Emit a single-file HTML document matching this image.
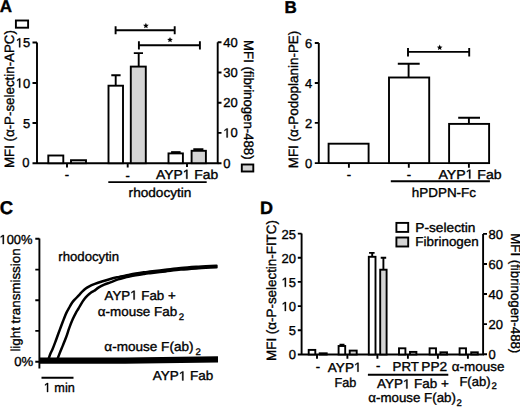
<!DOCTYPE html>
<html><head><meta charset="utf-8">
<style>
html,body{margin:0;padding:0;background:#fff;}
body{width:520px;height:408px;overflow:hidden;}
svg{display:block;}
text{font-family:"Liberation Sans",sans-serif;fill:#000;text-rendering:geometricPrecision;}
.t{font-size:13px;stroke:#000;stroke-width:0.35px;}
.s{font-size:9.6px;stroke:#000;stroke-width:0.3px;}
.b{font-weight:bold;font-size:17px;stroke:#000;stroke-width:0.4px;}
.ln{stroke:#000;stroke-width:1.9;fill:none;}
.bw{stroke:#000;stroke-width:1.9;fill:#fff;}
.bg{stroke:#000;stroke-width:1.9;fill:#d4d4d4;}
.tr{stroke:#000;stroke-width:2.5;fill:none;stroke-linejoin:round;stroke-linecap:round;}
.h1{fill:none;stroke:none;}
.one{fill:#000;stroke:#000;stroke-width:0.35px;}
</style></head>
<body>
<svg width="520" height="408" viewBox="0 0 520 408">
<!-- ================= PANEL A ================= -->
<text class="b" x="-0.3" y="12.4">A</text>
<rect class="bw" x="15.9" y="20.5" width="12.2" height="7.2" stroke-width="1.6"/>
<text class="t" style="font-size:13.5px" transform="translate(13.8,168.1) rotate(-90)" textLength="138" lengthAdjust="spacingAndGlyphs">MFI (α-P-selectin-APC)</text>
<!-- left axis -->
<path class="ln" d="M37 42.5V163.2 M32.5 42.5H37 M32.5 83H37 M32.5 123H37 M32.5 163.2H218.5"/>
<text class="t" x="30.3" y="47.3" text-anchor="end"><tspan class="h1">1</tspan>5</text>
<text class="t" x="30.3" y="87.5" text-anchor="end"><tspan class="h1">1</tspan>0</text>
<text class="t" x="30.3" y="127.6" text-anchor="end">5</text>
<text class="t" x="29.6" y="167.2" text-anchor="end">0</text>
<!-- right axis -->
<path class="ln" d="M217.7 42.3V163.2 M217.7 42.3H221.5 M217.7 72.5H221.5 M217.7 102.7H221.5 M217.7 132.9H221.5 M217.7 163.2H221.5"/>
<text class="t" x="223.3" y="47">40</text>
<text class="t" x="223.3" y="77.2">30</text>
<text class="t" x="223.3" y="107.4">20</text>
<text class="t" x="223.3" y="137.4"><tspan class="h1">1</tspan>0</text>
<text class="t" x="223.3" y="167.6">0</text>
<text class="t" style="font-size:13.5px" transform="translate(244.1,40.1) rotate(90)" textLength="119.5" lengthAdjust="spacingAndGlyphs">MFI (fibrinogen-488)</text>
<rect class="bg" x="241.8" y="164.5" width="11.5" height="7" stroke-width="1.6"/>
<!-- bars -->
<rect class="bw" x="48.3" y="155.5" width="15" height="7.7"/>
<rect class="bg" x="71" y="160.2" width="15" height="3"/>
<path class="ln" d="M115.7 85.7V75.3 M111.3 75.3H120.6"/>
<rect class="bw" x="108.5" y="85.7" width="14.5" height="77.5"/>
<path class="ln" d="M138.7 66.6V53.1 M133.8 53.1H143"/>
<rect class="bg" x="130.8" y="66.6" width="15" height="96.6"/>
<path class="ln" d="M171.1 152.1H180.6"/>
<rect class="bw" x="168.5" y="153.4" width="14.4" height="9.8"/>
<path class="ln" d="M193.3 149.2H203.4"/>
<rect class="bg" x="191.6" y="150.8" width="14.3" height="12.4"/>
<!-- ticks below -->
<path class="ln" d="M67 163.2V167.5 M127.7 163.2V167.5 M187 163.2V167 M108.3 182.1H206.7"/>
<text class="t" x="67" y="178.6" text-anchor="middle">-</text>
<text class="t" x="127.7" y="180.3" text-anchor="middle">-</text>
<text class="t" x="156" y="178.8" textLength="62.2" lengthAdjust="spacingAndGlyphs">AYP<tspan class="h1">1</tspan> Fab</text>
<text class="t" x="128.6" y="197.2" textLength="62.8" lengthAdjust="spacingAndGlyphs">rhodocytin</text>
<!-- brackets -->
<path class="ln" d="M115.6 30.2H174.7 M115.6 26.2V34.2 M174.7 26.2V34.2"/>
<polygon points="145.90,22.80 146.69,24.71 148.75,24.87 147.18,26.22 147.66,28.23 145.90,27.15 144.14,28.23 144.62,26.22 143.05,24.87 145.11,24.71"/>
<path class="ln" d="M138.9 45.3H199.9 M138.9 41.2V49.4 M199.9 41.2V49.4"/>
<polygon points="170.00,36.90 170.79,38.81 172.85,38.97 171.28,40.32 171.76,42.33 170.00,41.25 168.24,42.33 168.72,40.32 167.15,38.97 169.21,38.81"/>

<!-- ================= PANEL B ================= -->
<text class="b" x="284.5" y="12.6">B</text>
<text class="t" style="font-size:13.5px" transform="translate(297.9,168.3) rotate(-90)" textLength="137.6" lengthAdjust="spacingAndGlyphs">MFI (α-Podoplanin-PE)</text>
<path class="ln" d="M318.8 43V163.1 M314.8 43H318.8 M314.8 83H318.8 M314.8 122.9H318.8 M314.8 163.1H490"/>
<text class="t" x="312.2" y="47.6" text-anchor="end">6</text>
<text class="t" x="312.2" y="87.6" text-anchor="end">4</text>
<text class="t" x="312.2" y="127.5" text-anchor="end">2</text>
<text class="t" x="312.2" y="167.6" text-anchor="end">0</text>
<rect class="bw" x="328.6" y="143.7" width="40" height="19.4"/>
<path class="ln" d="M408.6 77.5V63.7 M397.8 63.7H419.7"/>
<rect class="bw" x="389" y="77.5" width="40.2" height="85.6"/>
<path class="ln" d="M468.9 123.9V117.7 M458.2 117.7H480"/>
<rect class="bw" x="449.1" y="123.9" width="40" height="39.2"/>
<path class="ln" d="M348.9 163.1V167.8 M408.8 163.1V167.8 M468.9 163.1V167.8 M390.8 181.3H489.9"/>
<text class="t" x="348.9" y="178.5" text-anchor="middle">-</text>
<text class="t" x="408.8" y="179.2" text-anchor="middle">-</text>
<text class="t" x="438.4" y="178.6" textLength="63.2" lengthAdjust="spacingAndGlyphs">AYP<tspan class="h1">1</tspan> Fab</text>
<text class="t" x="411.8" y="196.6" textLength="64.2" lengthAdjust="spacingAndGlyphs">hPDPN-Fc</text>
<path class="ln" d="M408 51.9H469.2 M408 48.1V56.6 M469.2 48.1V56.6"/>
<polygon points="439.70,44.60 440.49,46.51 442.55,46.67 440.98,48.02 441.46,50.03 439.70,48.95 437.94,50.03 438.42,48.02 436.85,46.67 438.91,46.51"/>

<!-- ================= PANEL C ================= -->
<text class="b" x="-0.2" y="213.5" style="font-size:18.5px">C</text>
<text class="t" x="-0.5" y="244" textLength="33" lengthAdjust="spacingAndGlyphs"><tspan class="h1">1</tspan>00%</text>
<text class="t" x="14.2" y="366.2" textLength="19" lengthAdjust="spacingAndGlyphs">0%</text>
<text class="t" transform="translate(19.8,351.6) rotate(-90)" textLength="103.2" lengthAdjust="spacingAndGlyphs">light transmission</text>
<path class="ln" d="M39.4 238.6V368.6 M35.3 238.8H39.4 M35.3 269.6H39.4 M35.3 300.2H39.4 M35.3 330.9H39.4 M35.3 361.8H39.4"/>
<!-- traces -->
<path d="M40 360.6L125 360.6L218 359.4" stroke="#000" stroke-width="6.2" fill="none"/>
<path class="tr" d="M48.3 360.0 C48.6 359.1 49.4 356.3 50.1 354.4 C50.9 352.5 51.9 350.7 52.8 348.5 C53.7 346.3 54.7 343.6 55.6 341.2 C56.5 338.8 57.4 336.2 58.3 333.8 C59.2 331.4 60.1 328.9 61.0 326.5 C61.9 324.1 62.9 321.5 63.8 319.1 C64.7 316.8 65.6 314.4 66.6 312.4 C67.6 310.4 68.7 308.6 69.6 307.0 C70.5 305.4 71.3 303.8 72.2 302.5 C73.1 301.2 74.0 300.2 75.1 299.1 C76.1 298.0 77.4 296.8 78.5 295.7 C79.6 294.6 80.3 293.4 81.5 292.3 C82.7 291.2 84.1 289.8 85.4 288.8 C86.7 287.8 87.8 287.2 89.3 286.4 C90.8 285.6 92.1 285.0 94.2 284.2 C96.3 283.4 99.1 282.4 101.9 281.5 C104.7 280.6 108.2 279.5 111.1 278.7 C114.0 277.9 116.9 277.4 119.2 276.9 C121.5 276.4 123.1 276.2 125.0 275.8 C126.9 275.4 127.3 275.1 130.4 274.5 C133.5 273.9 140.5 272.8 143.8 272.3 C147.1 271.8 146.4 272.0 150.0 271.6 C153.6 271.2 160.3 270.4 165.4 269.8 C170.5 269.2 175.7 268.5 180.8 268.0 C185.9 267.5 190.2 267.2 196.2 266.8 C202.1 266.4 213.1 265.9 216.5 265.7"/>
<path class="tr" d="M57.2 360.0 C57.6 358.8 58.9 355.3 59.8 352.9 C60.7 350.5 61.7 348.3 62.8 345.6 C63.9 342.9 65.2 339.8 66.3 336.8 C67.4 333.9 68.2 330.8 69.3 327.9 C70.4 324.9 71.7 321.6 72.8 319.1 C73.9 316.6 74.9 314.6 75.9 312.8 C76.9 311.0 77.7 310.0 78.6 308.4 C79.5 306.8 80.5 304.9 81.5 303.3 C82.5 301.7 83.8 299.9 84.8 298.6 C85.8 297.3 86.4 296.7 87.4 295.7 C88.4 294.7 89.7 293.5 90.8 292.7 C91.9 291.9 92.9 291.6 94.2 290.8 C95.5 290.0 96.7 288.6 98.4 287.6 C100.1 286.6 102.1 285.5 104.2 284.6 C106.3 283.7 108.8 283.0 111.1 282.1 C113.4 281.2 115.8 280.2 118.1 279.4 C120.4 278.6 123.0 278.0 125.0 277.5 C127.0 277.0 127.3 276.8 130.4 276.2 C133.5 275.6 140.5 274.5 143.8 274.0 C147.1 273.5 146.4 273.6 150.0 273.2 C153.6 272.8 160.3 272.0 165.4 271.4 C170.5 270.8 175.7 270.1 180.8 269.6 C185.9 269.1 190.2 268.8 196.2 268.4 C202.1 268.0 213.1 267.5 216.5 267.3"/>
<text class="t" x="58.3" y="260.7" textLength="60.8" lengthAdjust="spacingAndGlyphs">rhodocytin</text>
<text class="t" x="104.5" y="299.6" textLength="71.2" lengthAdjust="spacingAndGlyphs">AYP<tspan class="h1">1</tspan> Fab +</text>
<text class="t" x="97.8" y="316.1" textLength="79.4" lengthAdjust="spacingAndGlyphs">α-mouse Fab</text>
<text class="s" x="178.8" y="319.6">2</text>
<text class="t" x="104.3" y="351.2" textLength="89.2" lengthAdjust="spacingAndGlyphs">α-mouse F(ab)</text>
<text class="s" x="195.4" y="354.5">2</text>
<text class="t" x="152.8" y="380.4" textLength="60.5" lengthAdjust="spacingAndGlyphs">AYP<tspan class="h1">1</tspan> Fab</text>
<path class="ln" d="M41.5 377.8H73.5"/>
<text class="t" x="43.8" y="392" textLength="31" lengthAdjust="spacingAndGlyphs"><tspan class="h1">1</tspan> min</text>

<!-- ================= PANEL D ================= -->
<text class="b" x="259.9" y="213.6" style="font-size:18px">D</text>
<text class="t" style="font-size:13.5px" transform="translate(275.9,360.9) rotate(-90)" textLength="140.8" lengthAdjust="spacingAndGlyphs">MFI (α-P-selectin-FITC)</text>
<path class="ln" d="M301.6 233.6V354.5 M297.8 233.6H301.6 M297.8 257.7H301.6 M297.8 281.9H301.6 M297.8 306.1H301.6 M297.8 330.2H301.6 M297.8 354.5H484"/>
<text class="t" x="296" y="238.5" text-anchor="end">25</text>
<text class="t" x="296" y="262.6" text-anchor="end">20</text>
<text class="t" x="296" y="286.8" text-anchor="end"><tspan class="h1">1</tspan>5</text>
<text class="t" x="296" y="311" text-anchor="end"><tspan class="h1">1</tspan>0</text>
<text class="t" x="296" y="335.1" text-anchor="end">5</text>
<text class="t" x="296" y="359.2" text-anchor="end">0</text>
<path class="ln" d="M483.1 233.9V354.3 M483.1 233.9H487 M483.1 264H487 M483.1 294H487 M483.1 324.1H487 M483.1 354.2H487"/>
<text class="t" x="488.6" y="238.6">80</text>
<text class="t" x="488.6" y="268.7">60</text>
<text class="t" x="488.6" y="298.7">40</text>
<text class="t" x="488.6" y="328.8">20</text>
<text class="t" x="488.6" y="358.9">0</text>
<text class="t" style="font-size:13.5px" transform="translate(510.9,233.3) rotate(90)" textLength="120" lengthAdjust="spacingAndGlyphs">MFI (fibrinogen-488)</text>
<!-- legend -->
<rect class="bw" x="396.4" y="222.9" width="11.8" height="9" stroke-width="1.6"/>
<rect class="bg" x="396.4" y="237.5" width="11.8" height="9" stroke-width="1.6"/>
<text class="t" x="415.3" y="232" textLength="60.2" lengthAdjust="spacingAndGlyphs">P-selectin</text>
<text class="t" x="415.3" y="246.3" textLength="63.5" lengthAdjust="spacingAndGlyphs">Fibrinogen</text>
<!-- bars -->
<rect class="bw" x="308.7" y="349.9" width="6.6" height="4.6"/>
<rect class="bg" x="319.7" y="353.3" width="7" height="1.2"/>
<path class="ln" d="M342 346V344.6 M339.5 344.6H344.5"/>
<rect class="bw" x="338.6" y="346" width="6.6" height="8.5"/>
<rect class="bg" x="349.7" y="350.6" width="7" height="3.9"/>
<path class="ln" d="M372.2 256.8V252.9 M369.1 252.9H374.6"/>
<rect class="bw" x="368.8" y="256.8" width="6.7" height="97.7"/>
<path class="ln" d="M383.4 269.7V257.8 M380.7 257.8H386.2"/>
<rect class="bg" x="380.2" y="269.7" width="6.4" height="84.8"/>
<rect class="bw" x="399" y="348.3" width="6.4" height="6.2"/>
<rect class="bg" x="410" y="351.9" width="6.4" height="2.6"/>
<rect class="bw" x="429.6" y="348.3" width="6.4" height="6.2"/>
<rect class="bg" x="440.4" y="352.3" width="6.6" height="2.2"/>
<rect class="bw" x="459.6" y="348.3" width="6.4" height="6.2"/>
<rect class="bg" x="471.2" y="352.3" width="6.6" height="2.2"/>
<!-- ticks below -->
<path class="ln" d="M317 354.5V358.7 M347.4 354.5V358.7 M377.4 354.5V358.7 M407.9 354.5V358.7 M437.9 354.5V358.7 M467.9 354.5V358.7 M367.9 374.7H448.3"/>
<text class="t" x="318" y="370.5" text-anchor="middle">-</text>
<text class="t" x="327.8" y="371.7" textLength="33.7" lengthAdjust="spacingAndGlyphs">AYP<tspan class="h1">1</tspan></text>
<text class="t" x="334.6" y="386.7" textLength="21.8" lengthAdjust="spacingAndGlyphs">Fab</text>
<text class="t" x="378.2" y="370.3" text-anchor="middle">-</text>
<text class="t" x="392.6" y="371.1" textLength="26.3" lengthAdjust="spacingAndGlyphs">PRT</text>
<text class="t" x="421.3" y="371.1" textLength="25.8" lengthAdjust="spacingAndGlyphs">PP2</text>
<text class="t" x="451.8" y="371.1" textLength="52.6" lengthAdjust="spacingAndGlyphs">α-mouse</text>
<text class="t" x="459.4" y="386.2" textLength="31.2" lengthAdjust="spacingAndGlyphs">F(ab)</text>
<text class="s" x="491.4" y="389.2">2</text>
<text class="t" x="377" y="388.4" textLength="71.8" lengthAdjust="spacingAndGlyphs">AYP<tspan class="h1">1</tspan> Fab +</text>
<text class="t" x="368.3" y="402.4" textLength="87.6" lengthAdjust="spacingAndGlyphs">α-mouse F(ab)</text>
<text class="s" x="456.4" y="405.8">2</text>
<g id="ones">
<path class="one" vector-effect="non-scaling-stroke" transform="translate(15.83,47.30) scale(0.00635,-0.00635)" d="M515 0V1237L197 1010V1180L530 1409H696V0Z"/>
<path class="one" vector-effect="non-scaling-stroke" transform="translate(15.83,87.50) scale(0.00635,-0.00635)" d="M515 0V1237L197 1010V1180L530 1409H696V0Z"/>
<path class="one" vector-effect="non-scaling-stroke" transform="translate(223.30,137.40) scale(0.00635,-0.00635)" d="M515 0V1237L197 1010V1180L530 1409H696V0Z"/>
<path class="one" vector-effect="non-scaling-stroke" transform="translate(182.73,178.80) scale(0.00677,-0.00635)" d="M515 0V1237L197 1010V1180L530 1409H696V0Z"/>
<path class="one" vector-effect="non-scaling-stroke" transform="translate(465.56,178.60) scale(0.00688,-0.00635)" d="M515 0V1237L197 1010V1180L530 1409H696V0Z"/>
<path class="one" vector-effect="non-scaling-stroke" transform="translate(-0.50,244.00) scale(0.00630,-0.00635)" d="M515 0V1237L197 1010V1180L530 1409H696V0Z"/>
<path class="one" vector-effect="non-scaling-stroke" transform="translate(130.17,299.60) scale(0.00651,-0.00635)" d="M515 0V1237L197 1010V1180L530 1409H696V0Z"/>
<path class="one" vector-effect="non-scaling-stroke" transform="translate(178.80,380.40) scale(0.00659,-0.00635)" d="M515 0V1237L197 1010V1180L530 1409H696V0Z"/>
<path class="one" vector-effect="non-scaling-stroke" transform="translate(43.80,392.00) scale(0.00619,-0.00635)" d="M515 0V1237L197 1010V1180L530 1409H696V0Z"/>
<path class="one" vector-effect="non-scaling-stroke" transform="translate(281.53,286.80) scale(0.00635,-0.00635)" d="M515 0V1237L197 1010V1180L530 1409H696V0Z"/>
<path class="one" vector-effect="non-scaling-stroke" transform="translate(281.53,311.00) scale(0.00635,-0.00635)" d="M515 0V1237L197 1010V1180L530 1409H696V0Z"/>
<path class="one" vector-effect="non-scaling-stroke" transform="translate(353.95,371.70) scale(0.00663,-0.00635)" d="M515 0V1237L197 1010V1180L530 1409H696V0Z"/>
<path class="one" vector-effect="non-scaling-stroke" transform="translate(402.89,388.40) scale(0.00656,-0.00635)" d="M515 0V1237L197 1010V1180L530 1409H696V0Z"/>
</g>
</svg>
</body></html>
